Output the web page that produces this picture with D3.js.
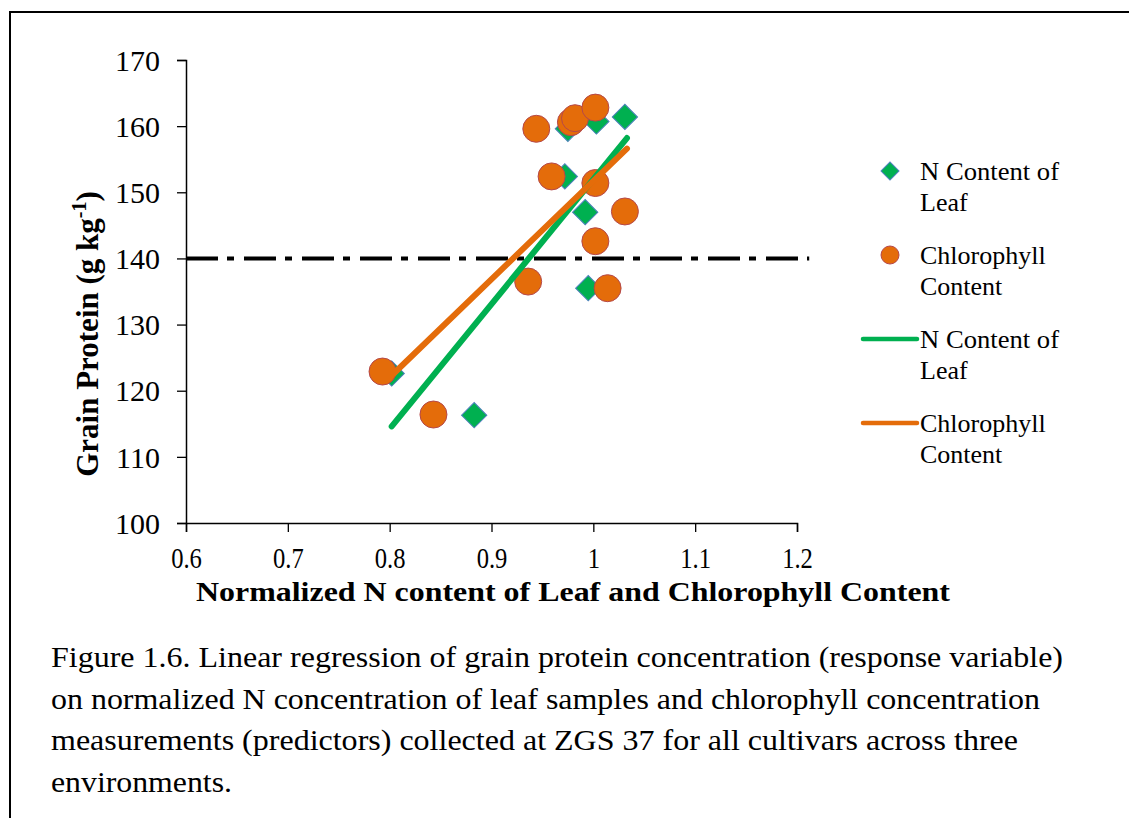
<!DOCTYPE html>
<html>
<head>
<meta charset="utf-8">
<script src="https://cdn.jsdelivr.net/npm/d3@7"></script>
<style>
  body { margin: 0; background: #fff; }
  svg { display: block; }
  text { font-family: "Liberation Serif", "Times New Roman", serif; fill: #000; }
</style>
</head>
<body>
<div id="chart"></div>
<script>
"use strict";

// values
const xTicks = [0.6, 0.7, 0.8, 0.9, 1.0, 1.1, 1.2];
const yTicks = [100, 110, 120, 130, 140, 150, 160, 170];

// N content of leaf (diamonds)
const leafX = [1.031, 1.003, 0.975, 0.972, 0.992, 0.995, 0.802, 0.883];
const leafY = [161.4, 160.7, 159.6, 152.4, 147.0, 135.5, 122.6, 116.3];

// chlorophyll content (circles)
const chlX = [0.944, 0.978, 0.982, 1.002, 0.959, 1.002, 1.031, 1.002, 0.936, 1.014, 0.793, 0.843];
const chlY = [159.6, 160.6, 161.2, 162.8, 152.4, 151.4, 147.1, 142.6, 136.5, 135.5, 122.9, 116.4];

// fitted regression lines (end points)
const leafFitX = [0.802, 1.033];
const leafFitY = [114.6, 158.2];
const chlFitX = [0.804, 1.033];
const chlFitY = [122.6, 156.6];

// threshold line
const threshold = 140;
const thresholdX = [0.6, 1.212];

const captionLines = [
  "Figure 1.6. Linear regression of grain protein concentration (response variable)",
  "on normalized N concentration of leaf samples and chlorophyll concentration",
  "measurements (predictors) collected at ZGS 37 for all cultivars across three",
  "environments."
];
const captionWidths = [1012, 989, 967, 181];

const width = 1129, height = 818;
const green = "#00b050", orange = "#e46c0a";

const svg = d3.select("#chart")
  .append("svg")
  .attr("width", width)
  .attr("height", height);

// frame
svg.append("path")
  .attr("d", `M10,${height} L10,12 L${width},12`)
  .attr("fill", "none")
  .attr("stroke", "#000")
  .attr("stroke-width", 2);

const x = d3.scaleLinear().domain([0.6, 1.2]).range([186, 797]);
const y = d3.scaleLinear().domain([100, 170]).range([523, 60]);

// axes
const xAxis = svg.append("g")
  .attr("transform", `translate(0,${y(100)})`)
  .call(d3.axisBottom(x).tickValues(xTicks).tickSize(9).tickPadding(0)
    .tickFormat(d => String(+d.toFixed(2))));
const yAxis = svg.append("g")
  .attr("transform", `translate(${x(0.6)},0)`)
  .call(d3.axisLeft(y).tickValues(yTicks).tickSize(9).tickPadding(17));

[xAxis, yAxis].forEach(g => {
  g.select(".domain").attr("stroke", "#000").attr("stroke-width", 1.5);
  g.selectAll(".tick line").attr("stroke", "#000").attr("stroke-width", 1.3);
  g.selectAll(".tick text").attr("font-size", 30);
});
yAxis.selectAll(".tick text").attr("dy", "0.34em");
// x labels sit lower and are narrower in the original
xAxis.selectAll(".tick text")
  .attr("y", null)
  .attr("dy", null)
  .attr("transform", "translate(0,45) scale(0.82,1)");

// threshold dash-dot line
svg.append("line")
  .attr("x1", x(thresholdX[0])).attr("x2", x(thresholdX[1]))
  .attr("y1", y(threshold)).attr("y2", y(threshold))
  .attr("stroke", "#000")
  .attr("stroke-width", 4)
  .attr("stroke-dasharray", "32 9 7 10");

const leafPts = leafX.map((v, i) => ({x: v, y: leafY[i]}));
const chlPts = chlX.map((v, i) => ({x: v, y: chlY[i]}));

const diamond = d3.symbol().type(d3.symbolSquare).size(320);

svg.append("g")
  .selectAll("path")
  .data(leafPts)
  .join("path")
    .attr("d", diamond)
    .attr("transform", d => `translate(${x(d.x)},${y(d.y)}) rotate(45)`)
    .attr("fill", green)
    .attr("stroke", "#4f81bd")
    .attr("stroke-width", 1);

svg.append("g")
  .selectAll("circle")
  .data(chlPts)
  .join("circle")
    .attr("cx", d => x(d.x))
    .attr("cy", d => y(d.y))
    .attr("r", 13.5)
    .attr("fill", orange)
    .attr("stroke", "#b5484a")
    .attr("stroke-width", 1);

const line = d3.line().x(d => x(d[0])).y(d => y(d[1]));

svg.append("path")
  .attr("d", line(leafFitX.map((v, i) => [v, leafFitY[i]])))
  .attr("stroke", green)
  .attr("stroke-width", 6)
  .attr("stroke-linecap", "round")
  .attr("fill", "none");

svg.append("path")
  .attr("d", line(chlFitX.map((v, i) => [v, chlFitY[i]])))
  .attr("stroke", orange)
  .attr("stroke-width", 6)
  .attr("stroke-linecap", "round")
  .attr("fill", "none");

// legend
const legend = svg.append("g").attr("font-size", 26);
const legendItems = [
  {type: "diamond", cy: 171, lines: ["N Content of", "Leaf"]},
  {type: "circle", cy: 255, lines: ["Chlorophyll", "Content"]},
  {type: "gline", cy: 339, lines: ["N Content of", "Leaf"]},
  {type: "oline", cy: 423, lines: ["Chlorophyll", "Content"]}
];
legendItems.forEach(it => {
  if (it.type === "diamond") {
    legend.append("path")
      .attr("d", d3.symbol().type(d3.symbolSquare).size(162))
      .attr("transform", `translate(890,${it.cy}) rotate(45)`)
      .attr("fill", green).attr("stroke", "#4f81bd");
  } else if (it.type === "circle") {
    legend.append("circle")
      .attr("cx", 890).attr("cy", it.cy).attr("r", 9)
      .attr("fill", orange).attr("stroke", "#b5484a");
  } else {
    legend.append("line")
      .attr("x1", 863).attr("x2", 917)
      .attr("y1", it.cy).attr("y2", it.cy)
      .attr("stroke", it.type === "gline" ? green : orange)
      .attr("stroke-width", 4.5)
      .attr("stroke-linecap", "round");
  }
  it.lines.forEach((t, k) => {
    legend.append("text")
      .attr("x", 920)
      .attr("y", it.cy + 9 + k * 31)
      .attr("textLength", t === "N Content of" ? 139 : null)
      .attr("lengthAdjust", "spacingAndGlyphs")
      .text(t);
  });
});

// axis titles
svg.append("text")
  .attr("x", 573)
  .attr("y", 601)
  .attr("text-anchor", "middle")
  .attr("font-size", 28)
  .attr("font-weight", "bold")
  .attr("textLength", 754)
  .attr("lengthAdjust", "spacingAndGlyphs")
  .text("Normalized N  content of Leaf and Chlorophyll Content");

const yTitle = svg.append("text")
  .attr("transform", "translate(98,334) rotate(-90)")
  .attr("text-anchor", "middle")
  .attr("font-size", 31)
  .attr("font-weight", "bold");
yTitle.append("tspan").text("Grain Protein (g kg");
yTitle.append("tspan").attr("font-size", 20).attr("dy", -12).text("-1");
yTitle.append("tspan").attr("dy", 12).text(")");

// caption
svg.append("g")
  .selectAll("text")
  .data(captionLines)
  .join("text")
    .attr("x", 51)
    .attr("y", (d, i) => 667 + i * 41.5)
    .attr("font-size", 30)
    .attr("textLength", (d, i) => captionWidths[i])
    .attr("lengthAdjust", "spacingAndGlyphs")
    .text(d => d);
</script>
</body>
</html>
